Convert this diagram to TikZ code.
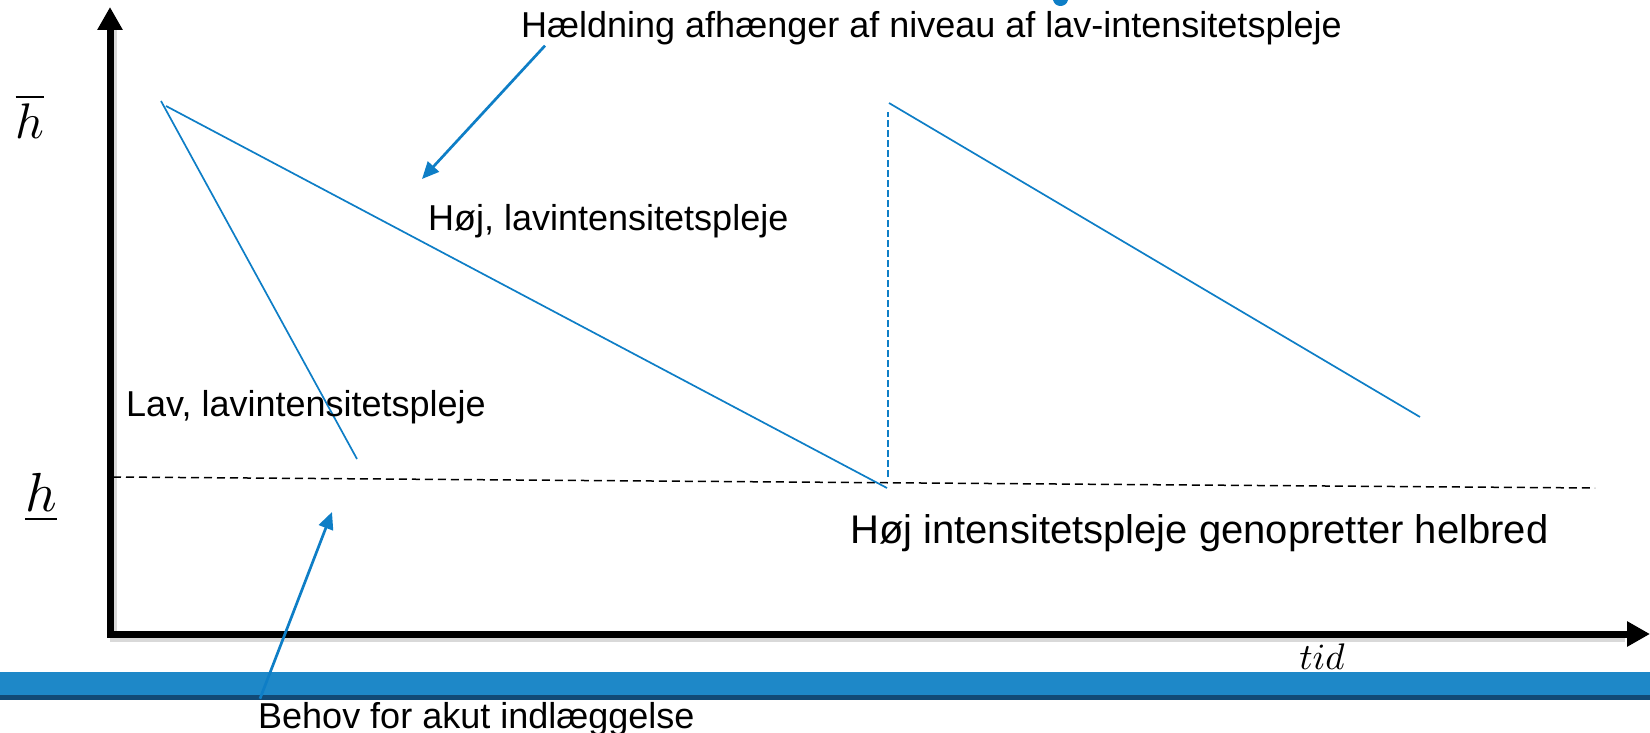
\documentclass[tikz,border=0pt]{standalone}
\usepackage{fontspec}
\setmainfont{Liberation Sans}
\usetikzlibrary{positioning, arrows.meta}
\definecolor{curveblue}{RGB}{14,126,198}
\definecolor{bandblue}{RGB}{30,136,200}
\definecolor{banddark}{RGB}{18,74,118}

\begin{document}
\begin{tikzpicture}[x=1pt, y=-1pt,
  txt/.style = {anchor=base west, inner sep=0pt,
                font=\fontsize{36}{43}\selectfont},
  bigtxt/.style = {txt, font=\fontsize{40}{48}\selectfont},
  mathtxt/.style = {anchor=base, inner sep=0pt},
  axisline/.style = {line width=7pt, line join=miter,
                {Triangle[length=23pt,width=24pt]}-{Triangle[length=23pt,width=24pt]}},
  axisshadow/.style = {line width=7pt, line join=miter, black!15},
  curve/.style = {curveblue, line width=1.7pt},
  jump/.style = {curveblue, line width=1.7pt, dash pattern=on 7pt off 3pt},
  floor/.style = {black, line width=1.5pt, dash pattern=on 8pt off 5pt},
  pointer/.style = {curveblue, line width=2.7pt,
                -{Triangle[length=17pt,width=15pt]}}
  ]
\useasboundingbox (0,0) rectangle (1650,733);

% band at the bottom
\fill[bandblue] (0,672) rectangle (1650,695);
\fill[banddark] (0,695) rectangle (1650,700);
\fill[curveblue] (1053,0) .. controls (1055,8) and (1066,8) .. (1068,0) -- cycle;

% axes
\coordinate (ytop) at (110,7);
\coordinate (origin) at (110,634);
\coordinate (xend) at (1650,634);
\draw[axisshadow] (113,30) -- (113,638) -- (1625,638);
\draw[axisline] (ytop) -- (origin) -- (xend);

\node[mathtxt] (hbar) at (30,139) {\scalebox{5}{$\overline{h}$}};
\node[mathtxt] (hlow) at (41,511) {\scalebox{5.5}{$\underline{h}$}};
\node[mathtxt] (tid) at (1322,669) {\scalebox{3.7}{$tid$}};

% health paths
\coordinate (lavstart) at (161,101);
\coordinate (lavend) at (357,459);
\coordinate (hoejstart) at (166,106);
\coordinate (hoejend) at (887,488);
\coordinate (jumpbot) at (888,477);
\coordinate (jumptop) at (888,112);
\coordinate (restart) at (889,103);
\coordinate (reend) at (1420,417);
\coordinate (floorstart) at (113,477);
\coordinate (floorend) at (1595,488);

\draw[floor] (floorstart) -- (floorend);
\draw[curve] (lavstart) -- (lavend);
\draw[curve] (hoejstart) -- (hoejend);
\draw[jump] (jumpbot) -- (jumptop);
\draw[curve] (restart) -- (reend);

% texts
\node[txt] (title) at (521,38) {Hældning afhænger af niveau af lav-intensitetspleje};
\node[txt] (hoej) at (428,230) {Høj, lavintensitetspleje};
\node[txt] (lav) at (126,416) {Lav, lavintensitetspleje};
\node[bigtxt] (genopret) at (850,543) {Høj intensitetspleje genopretter helbred};
\node[txt] (behov) at (258,728) {Behov for akut indlæggelse};

% connections
\coordinate (slopetip) at (422,179);
\coordinate (akuttip) at (332,512);
\draw[pointer] ([xshift=24pt]title.south west) -- (slopetip);
\draw[pointer] ([xshift=2pt,yshift=3pt]behov.north west) -- (akuttip);
\end{tikzpicture}
\end{document}
